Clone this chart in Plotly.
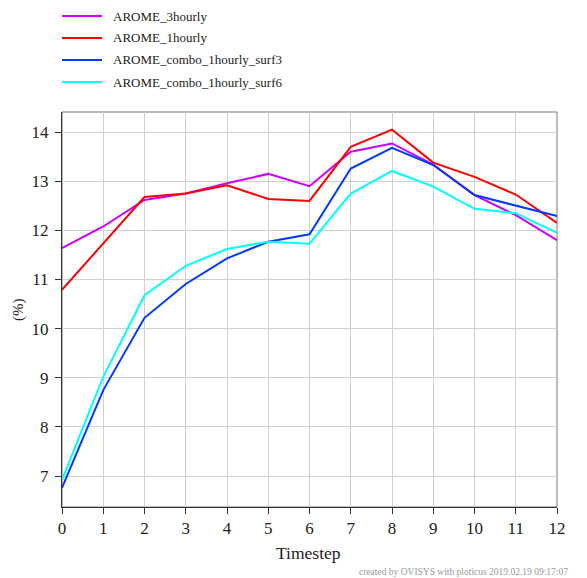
import plotly.graph_objects as go

timesteps = list(range(13))
arome_3hourly = [11.64, 12.08, 12.62, 12.75, 12.96, 13.15, 12.90, 13.60, 13.77, 13.34, 12.72, 12.31, 11.80]
arome_1hourly = [10.79, 11.73, 12.68, 12.75, 12.92, 12.64, 12.60, 13.70, 14.05, 13.38, 13.09, 12.73, 12.15]
combo_surf3 = [6.76, 8.75, 10.22, 10.91, 11.43, 11.77, 11.92, 13.26, 13.68, 13.33, 12.72, 12.51, 12.29]
combo_surf6 = [6.92, 9.02, 10.68, 11.28, 11.62, 11.77, 11.73, 12.75, 13.21, 12.89, 12.44, 12.35, 11.95]

names = ["AROME_3hourly", "AROME_1hourly", "AROME_combo_1hourly_surf3", "AROME_combo_1hourly_surf6"]
series = [arome_3hourly, arome_1hourly, combo_surf3, combo_surf6]
colors = ["#cc00ff", "#ff0000", "#0039ff", "#00ffff"]

font_family = "Liberation Serif, DejaVu Serif, serif"

fig = go.Figure()
for name, vals, col in zip(names, series, colors):
    fig.add_trace(go.Scatter(x=timesteps, y=vals, mode="lines", name=name,
                             line=dict(color=col, width=2), showlegend=False))

OFF = 8  # page body margin
W, H = 587 - OFF, 578 - OFF
L, T = 62 - OFF, 112 - OFF
PW, PH = 495, 395
R = W - L - PW
B = H - T - PH

def px_x(ax):
    return (ax - OFF - L) / PW

def px_y(ay):
    return 1 - (ay - OFF - T) / PH

shapes = [dict(type="rect", xref="paper", yref="paper", x0=0, y0=0, x1=1, y1=1,
               line=dict(color="#777777", width=1), layer="below")]
annotations = []
leg_y = [16, 38, 60, 82]
for name, col, py in zip(names, colors, leg_y):
    yp = px_y(py)
    shapes.append(dict(type="line", xref="paper", yref="paper",
                       x0=px_x(62), x1=px_x(102), y0=yp, y1=yp,
                       line=dict(color=col, width=2)))
    annotations.append(dict(text=name, xref="paper", yref="paper",
                            x=px_x(111), y=yp, xanchor="left", yanchor="middle",
                            showarrow=False, font=dict(size=13, color="#222222", family=font_family)))

annotations.append(dict(text="created by OVISYS with ploticus 2019.02.19 09:17:07",
                        xref="paper", yref="paper", x=px_x(357), y=px_y(572),
                        xanchor="left", yanchor="middle", showarrow=False,
                        font=dict(size=9.5, color="#999999", family=font_family)))
annotations.append(dict(text="(%)", xref="paper", yref="paper", x=px_x(18), y=px_y(310),
                        xanchor="center", yanchor="middle", textangle=-90, showarrow=False,
                        font=dict(size=15, color="#222222", family=font_family)))
annotations.append(dict(text="Timestep", xref="paper", yref="paper", x=px_x(308), y=px_y(553),
                        xanchor="center", yanchor="middle", showarrow=False,
                        font=dict(size=17.5, color="#222222", family=font_family)))

fig.update_layout(
    width=W, height=H,
    margin=dict(l=L, r=R, t=T, b=B, autoexpand=False),
    paper_bgcolor="white", plot_bgcolor="white",
    font=dict(family=font_family, color="#222222"),
    shapes=shapes, annotations=annotations,
    xaxis=dict(range=[0, 12], tickmode="array", tickvals=timesteps, automargin=False,
               showgrid=True, gridcolor="#d0d0d0", gridwidth=1, zeroline=False,
               showline=True, linecolor="#333333", linewidth=1,
               ticks="outside", ticklen=6, tickcolor="#333333",
               tickfont=dict(size=17, family=font_family, color="#222222")),
    yaxis=dict(range=[6.37, 14.41], tickmode="array", tickvals=[7, 8, 9, 10, 11, 12, 13, 14],
               automargin=False,
               showgrid=True, gridcolor="#d0d0d0", gridwidth=1, zeroline=False,
               showline=True, linecolor="#333333", linewidth=1,
               ticks="outside", ticklen=6, tickcolor="#333333", ticklabelstandoff=3,
               tickfont=dict(size=17, family=font_family, color="#222222")),
)

fig.write_html("out.html")
